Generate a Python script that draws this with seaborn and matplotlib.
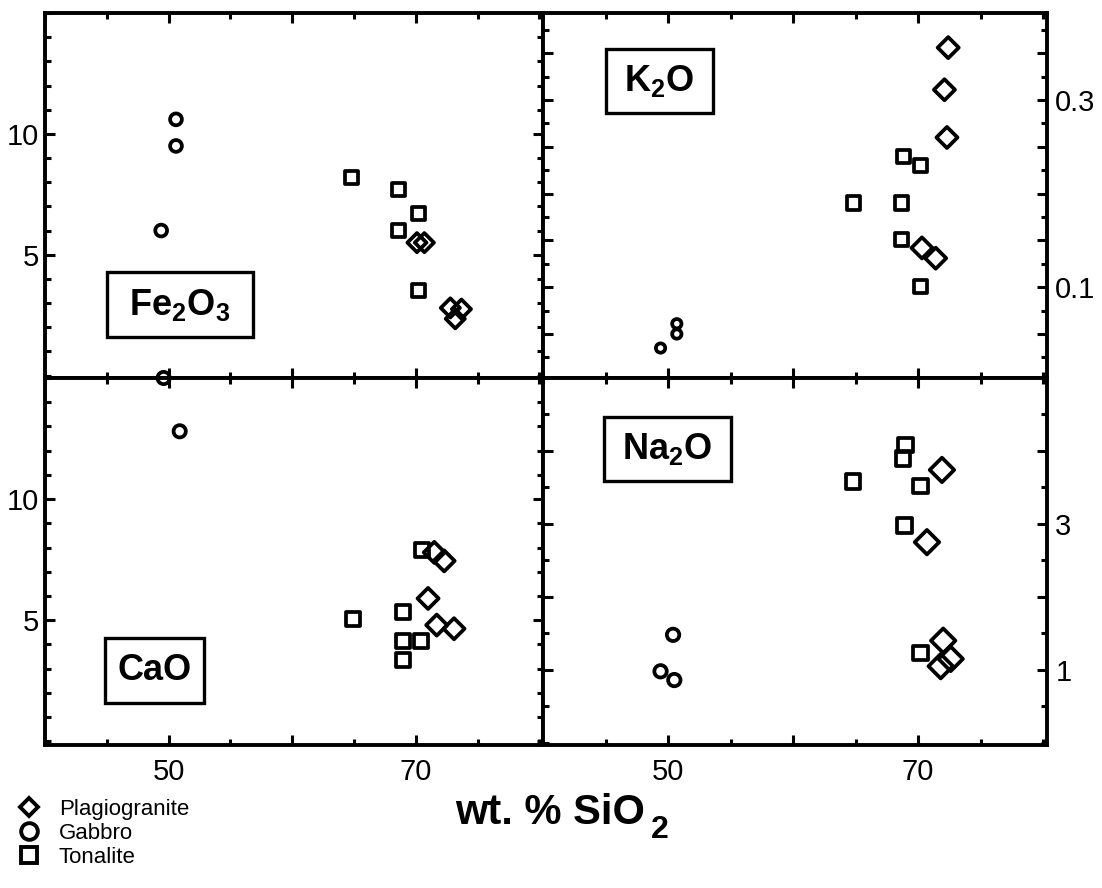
import pandas as pd
import matplotlib.pyplot as plt
import seaborn as sns
from matplotlib.lines import Line2D
from matplotlib.patches import Rectangle
from matplotlib.ticker import MultipleLocator

sns.set_style("ticks")
plt.rcParams["font.family"] = ["Liberation Sans", "DejaVu Sans"]
plt.rcParams["mathtext.fontset"] = "custom"
plt.rcParams["mathtext.rm"] = "Liberation Sans"
plt.rcParams["mathtext.bf"] = "Liberation Sans:bold"
for key in ("text.color", "axes.labelcolor", "xtick.color", "ytick.color"):
    plt.rcParams[key] = "black"

ROCKS = ["Plagiogranite", "Gabbro", "Tonalite"]
MARKERS = {"Plagiogranite": "D", "Gabbro": "o", "Tonalite": "s"}

# ── values (x = wt.% SiO2) ─────────────────────────────────────────────
fe_plag_x = [70.1, 70.7, 72.8, 73.7, 73.2]
fe_plag_y = [5.5, 5.5, 2.8, 2.75, 2.35]
fe_gab_x = [50.6, 50.6, 49.4]
fe_gab_y = [10.6, 9.5, 6.0]
fe_ton_x = [64.8, 68.6, 70.2, 68.6, 70.2]
fe_ton_y = [8.2, 7.7, 6.7, 6.0, 3.5]

k_plag_x = [72.4, 72.1, 72.3, 70.3, 71.4]
k_plag_y = [0.356, 0.311, 0.260, 0.142, 0.131]
k_gab_x = [49.4, 50.7, 50.7]
k_gab_y = [0.035, 0.061, 0.050]
k_ton_x = [68.8, 70.2, 64.8, 68.7, 68.7, 70.2]
k_ton_y = [0.240, 0.230, 0.190, 0.190, 0.151, 0.101]

ca_plag_x = [71.5, 72.3, 71.0, 71.7, 73.1]
ca_plag_y = [7.8, 7.45, 5.9, 4.8, 4.65]
ca_gab_x = [50.9, 49.6]
ca_gab_y = [12.8, 15.0]
ca_ton_x = [70.5, 64.9, 69.0, 69.0, 70.4, 69.0]
ca_ton_y = [7.9, 5.05, 5.35, 4.15, 4.15, 3.35]

na_plag_x = [71.9, 70.7, 72.0, 72.6, 71.8]
na_plag_y = [3.74, 2.75, 1.4, 1.15, 1.05]
na_gab_x = [50.4, 49.4, 50.5]
na_gab_y = [1.48, 0.98, 0.86]
na_ton_x = [69.0, 68.8, 64.8, 70.2, 68.9, 70.2]
na_ton_y = [4.08, 3.9, 3.58, 3.52, 2.98, 1.23]

x_ticks = [50, 60, 70]
x_ticklabels = ["50", "", "70"]
left_yticks = [5, 10]
k_yticks = [0.05, 0.10, 0.15, 0.20, 0.25, 0.30, 0.35]
k_yticklabels = ["", "0.1", "", "", "", "0.3", ""]
na_yticks = [1, 2, 3, 4]
na_yticklabels = ["1", "", "3", ""]


def frame(px, py, gx, gy, tx, ty):
    return pd.DataFrame({
        "SiO2": px + gx + tx,
        "value": py + gy + ty,
        "rock": ["Plagiogranite"] * len(px) + ["Gabbro"] * len(gx) + ["Tonalite"] * len(tx),
    })


df_fe = frame(fe_plag_x, fe_plag_y, fe_gab_x, fe_gab_y, fe_ton_x, fe_ton_y)
df_k = frame(k_plag_x, k_plag_y, k_gab_x, k_gab_y, k_ton_x, k_ton_y)
df_ca = frame(ca_plag_x, ca_plag_y, ca_gab_x, ca_gab_y, ca_ton_x, ca_ton_y)
df_na = frame(na_plag_x, na_plag_y, na_gab_x, na_gab_y, na_ton_x, na_ton_y)

# ── layout: four panels butted together ────────────────────────────────
W, H = 1102, 888
L, M, R = 45 / W, 543 / W, 1047 / W
B, C, T = 1 - 745 / H, 1 - 378 / H, 1 - 13 / H

fig = plt.figure(figsize=(W / 100, H / 100), dpi=100)
ax_fe = fig.add_axes([L, C, M - L, T - C])
ax_k = fig.add_axes([M, C, R - M, T - C])
ax_ca = fig.add_axes([L, B, M - L, C - B])
ax_na = fig.add_axes([M, B, R - M, C - B])

panels = [
    # ax, data, marker sizes, ylim, label, label box (axes fraction)
    (ax_fe, df_fe, {"Plagiogranite": 95, "Gabbro": 72, "Tonalite": 88},
     (-0.1, 15.0), r"Fe$_\mathbf{2}$O$_\mathbf{3}$", (0.124, 0.112, 0.294, 0.178)),
    (ax_k, df_k, {"Plagiogranite": 115, "Gabbro": 45, "Tonalite": 88},
     (0.003, 0.393), r"K$_\mathbf{2}$O", (0.125, 0.726, 0.212, 0.175)),
    (ax_ca, df_ca, {"Plagiogranite": 115, "Gabbro": 78, "Tonalite": 105},
     (-0.15, 15.0), "CaO", (0.120, 0.114, 0.199, 0.178)),
    (ax_na, df_na, {"Plagiogranite": 155, "Gabbro": 80, "Tonalite": 110},
     (-0.03, 5.0), r"Na$_\mathbf{2}$O", (0.121, 0.719, 0.252, 0.175)),
]

for ax, df, sizes, ylim, label, box in panels:
    sns.scatterplot(data=df, x="SiO2", y="value", style="rock", markers=MARKERS,
                    size="rock", sizes=sizes, facecolor="none", edgecolor="black",
                    color="black", linewidth=2.7, legend=False, clip_on=False,
                    zorder=4, ax=ax)
    ax.set_xlim(40, 80.3)
    ax.set_ylim(*ylim)
    ax.set_xlabel("")
    ax.set_ylabel("")
    ax.set_xticks(x_ticks)
    ax.xaxis.set_minor_locator(MultipleLocator(5))
    ax.tick_params(which="both", direction="in", top=True, bottom=True,
                   left=True, right=True, width=2.2, labelsize=21)
    ax.tick_params(which="major", length=7)
    ax.tick_params(which="minor", length=4)
    ax.tick_params(axis="x", pad=9)
    for s in ax.spines.values():
        s.set_linewidth(2.8)
        s.set_color("black")
    x0, y0, w, h = box
    ax.add_patch(Rectangle((x0, y0), w, h, transform=ax.transAxes, fc="white",
                           ec="black", lw=2.4, zorder=5))
    ax.text(x0 + w / 2, y0 + h / 2, label, transform=ax.transAxes, ha="center",
            va="center", fontsize=26, fontweight="bold", zorder=6)

# left-hand y axes
for ax in (ax_fe, ax_ca):
    ax.set_yticks(left_yticks)
    ax.yaxis.set_minor_locator(MultipleLocator(1))
    ax.tick_params(axis="y", labelleft=True, labelright=False, pad=4)

# right-hand y axes
ax_k.set_yticks(k_yticks, k_yticklabels)
ax_k.yaxis.set_minor_locator(MultipleLocator(0.025))
ax_na.set_yticks(na_yticks, na_yticklabels)
ax_na.yaxis.set_minor_locator(MultipleLocator(0.5))
for ax in (ax_k, ax_na):
    ax.tick_params(axis="y", labelleft=False, labelright=True, pad=6)

for ax in (ax_fe, ax_k):
    ax.tick_params(axis="x", labelbottom=False)
for ax in (ax_ca, ax_na):
    ax.set_xticklabels(x_ticklabels)

# shared x label, with a large lowered subscript as in the original
base_y = 1 - 824 / H
xl = fig.text(455 / W, base_y, "wt. % SiO", ha="left", va="baseline",
              fontsize=30, fontweight="bold")
fig.draw_without_rendering()
fig.add_artist(plt.Annotation(
    "2", xy=(1.0, base_y), xycoords=(xl, "figure fraction"), xytext=(4, -10),
    textcoords="offset points", fontsize=23, fontweight="bold",
    ha="left", va="baseline", annotation_clip=False))

handles = [Line2D([], [], ls="none", marker=MARKERS[r], mfc="none", mec="black",
                  mew=2.8, ms=ms) for r, ms in zip(ROCKS, [9, 12, 12])]
fig.legend(handles, ROCKS, loc="upper left", bbox_to_anchor=(0.016, 0.100),
           frameon=False, fontsize=16, handlelength=1.0, handletextpad=0.85,
           labelspacing=0.12, borderpad=0, borderaxespad=0)

fig.savefig("out.png", dpi=100, facecolor="white")
